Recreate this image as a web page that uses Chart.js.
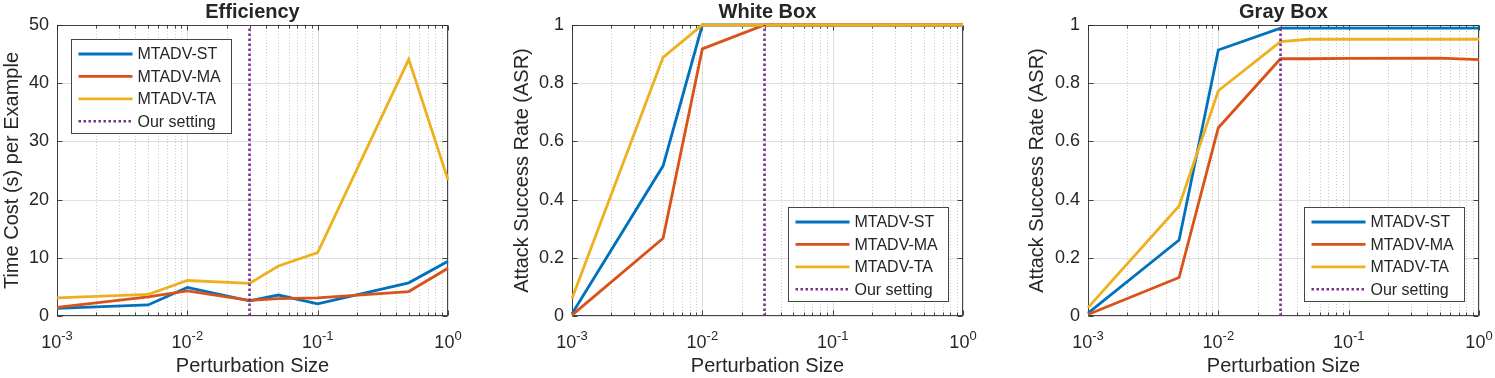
<!DOCTYPE html>
<html>
<head>
<meta charset="utf-8">
<script src="https://cdn.jsdelivr.net/npm/chart.js@4.4.1/dist/chart.umd.min.js"></script>
<style>
  body { margin: 0; background: #fff; }
  #wrap { position: relative; width: 1495px; height: 378px; overflow: hidden; }
  canvas { position: absolute; top: 0; }
</style>
</head>
<body>
<div id="wrap">
  <canvas id="eff" width="500" height="378" style="left:0px"></canvas>
  <canvas id="white" width="500" height="378" style="left:510px"></canvas>
  <canvas id="gray" width="470" height="378" style="left:1025px"></canvas>
</div>
<script>
// data
const perturbation = [0.001, 0.005, 0.01, 0.03, 0.05, 0.1, 0.5, 1];
const ourSetting = 0.03;
const seriesNames = ["MTADV-ST", "MTADV-MA", "MTADV-TA"];
const settingName = "Our setting";

const effST = [1.3, 1.9, 4.9, 2.6, 3.6, 2.1, 5.7, 9.4];
const effMA = [1.5, 3.3, 4.3, 2.7, 3.0, 3.1, 4.2, 8.2];
const effTA = [3.1, 3.7, 6.1, 5.6, 8.6, 10.9, 44.1, 23.4];

const whiteST = [0.008, 0.516, 1, 1, 1, 1, 1, 1];
const whiteMA = [0.003, 0.267, 0.918, 1, 1, 1, 1, 1];
const whiteTA = [0.06, 0.889, 1, 1, 1, 1, 1, 1];

const grayST = [0.01, 0.261, 0.914, 0.989, 0.989, 0.989, 0.989, 0.989];
const grayMA = [0.005, 0.132, 0.647, 0.884, 0.884, 0.885, 0.886, 0.881];
const grayTA = [0.029, 0.378, 0.774, 0.943, 0.951, 0.951, 0.951, 0.951];

const xTickExps = [-3, -2, -1, 0];
const effYTicks = [0, 10, 20, 30, 40, 50];
const asrYTicks = [0, 0.2, 0.4, 0.6, 0.8, 1];

const colors = ["#0072BD", "#D95319", "#EDB120"];
const purple = "#7E2F8E";
const txt = "#262626";
const FONT = "'Liberation Sans', Arial, Helvetica, sans-serif";

function pts(ys) {
  return perturbation.map((x, i) => ({x: x, y: ys[i]}));
}

function makeDatasets(st, ma, ta, yMax) {
  const ds = [st, ma, ta].map((ys, i) => ({
    label: seriesNames[i],
    data: pts(ys),
    borderColor: colors[i],
    borderWidth: 2.8,
    pointRadius: 0,
    tension: 0,
    fill: false,
    clip: false,
    order: 4 - i
  }));
  ds.push({
    label: settingName,
    data: [{x: ourSetting, y: 0}, {x: ourSetting, y: yMax}],
    borderColor: purple,
    borderWidth: 2.6,
    borderDash: [2.5, 2.5],
    borderCapStyle: "butt",
    pointRadius: 0,
    clip: false,
    order: 0
  });
  return ds;
}

// matlab-like box, grid, ticks, title, legend
const matlabAxes = {
  id: "matlabAxes",
  beforeDatasetsDraw(chart, args, o) {
    const {ctx, chartArea: a, scales: {x, y}} = chart;
    ctx.save();
    ctx.lineWidth = 1;
    const lo = xTickExps[0], hi = xTickExps[xTickExps.length - 1];
    // minor grid
    ctx.strokeStyle = "rgba(26,26,26,0.22)";
    ctx.setLineDash([1, 2]);
    for (let e = lo; e < hi; e++) {
      for (let k = 2; k <= 9; k++) {
        const px = Math.round(x.getPixelForValue(k * Math.pow(10, e))) + 0.5;
        ctx.beginPath(); ctx.moveTo(px, a.top); ctx.lineTo(px, a.bottom); ctx.stroke();
      }
    }
    ctx.setLineDash([]);
    ctx.strokeStyle = "rgba(38,38,38,0.15)";
    xTickExps.forEach(e => {
      const px = Math.round(x.getPixelForValue(Math.pow(10, e))) + 0.5;
      ctx.beginPath(); ctx.moveTo(px, a.top); ctx.lineTo(px, a.bottom); ctx.stroke();
    });
    o.yTicks.forEach(v => {
      const py = Math.round(y.getPixelForValue(v)) + 0.5;
      ctx.beginPath(); ctx.moveTo(a.left, py); ctx.lineTo(a.right, py); ctx.stroke();
    });
    // box
    ctx.strokeStyle = "rgba(38,38,38,0.85)";
    const L = Math.round(a.left) + 0.5, R = Math.round(a.right) - 0.5;
    const T = Math.round(a.top) + 0.5, B = Math.round(a.bottom) - 0.5;
    ctx.strokeRect(L, T, R - L, B - T);
    // tick marks
    ctx.beginPath();
    for (let e = lo; e <= hi; e++) {
      for (let k = 1; k <= 9; k++) {
        if (e === hi && k > 1) break;
        const px = Math.round(x.getPixelForValue(k * Math.pow(10, e))) + 0.5;
        const len = k === 1 ? 5 : 3;
        ctx.moveTo(px, B); ctx.lineTo(px, B - len);
        ctx.moveTo(px, T); ctx.lineTo(px, T + len);
      }
    }
    o.yTicks.forEach(v => {
      const py = Math.round(y.getPixelForValue(v)) + 0.5;
      ctx.moveTo(L, py); ctx.lineTo(L + 5, py);
      ctx.moveTo(R, py); ctx.lineTo(R - 5, py);
    });
    ctx.stroke();
    ctx.restore();
  },
  afterDraw(chart, args, o) {
    const {ctx, chartArea: a, scales: {x}} = chart;
    ctx.save();
    ctx.fillStyle = txt;
    // title
    ctx.font = "bold 20px " + FONT;
    ctx.textAlign = "center";
    ctx.textBaseline = "alphabetic";
    ctx.fillText(o.title, (a.left + a.right) / 2, 18);
    // x tick labels 10^e
    ctx.textAlign = "left";
    xTickExps.forEach(e => {
      const px = x.getPixelForValue(Math.pow(10, e));
      ctx.font = "18px " + FONT;
      const w1 = ctx.measureText("10").width;
      ctx.font = "13px " + FONT;
      const sup = String(e);
      const w2 = ctx.measureText(sup).width;
      const start = px - (w1 + w2) / 2;
      ctx.font = "18px " + FONT;
      ctx.fillText("10", start, 348);
      ctx.font = "13px " + FONT;
      ctx.fillText(sup, start + w1, 340);
    });
    // legend
    const bw = 160, bh = 94;
    let bx, by;
    if (o.legend === "tl") { bx = a.left + 14; by = a.top + 14; }
    else { bx = a.right - 15 - bw; by = a.bottom - 15 - bh; }
    bx = Math.round(bx) + 0.5; by = Math.round(by) + 0.5;
    ctx.fillStyle = "#fff";
    ctx.fillRect(bx, by, bw, bh);
    ctx.strokeStyle = "rgba(38,38,38,0.85)";
    ctx.lineWidth = 1;
    ctx.strokeRect(bx, by, bw, bh);
    chart.data.datasets.forEach((d, i) => {
      const ry = by + 14.5 + i * 22.4;
      ctx.beginPath();
      ctx.strokeStyle = d.borderColor;
      ctx.lineWidth = d.borderWidth;
      ctx.setLineDash(d.borderDash || []);
      ctx.moveTo(bx + 7, ry); ctx.lineTo(bx + 61, ry);
      ctx.stroke();
      ctx.setLineDash([]);
      ctx.fillStyle = txt;
      ctx.font = "16px " + FONT;
      ctx.textBaseline = "middle";
      ctx.fillText(d.label, bx + 66, ry + 1);
    });
    ctx.restore();
  }
};

function makeChart(id, datasets, yTicks, yLabel, title, legend, yWidth, padRight) {
  return new Chart(document.getElementById(id), {
    type: "line",
    data: {datasets: datasets},
    plugins: [matlabAxes],
    options: {
      responsive: false,
      animation: false,
      devicePixelRatio: 1,
      layout: {padding: {left: 0, right: padRight, top: 25, bottom: 0}},
      plugins: {
        legend: {display: false},
        tooltip: {enabled: false},
        matlabAxes: {title: title, yTicks: yTicks, legend: legend}
      },
      scales: {
        x: {
          type: "logarithmic",
          min: Math.pow(10, xTickExps[0]),
          max: Math.pow(10, xTickExps[xTickExps.length - 1]),
          grid: {display: false},
          border: {display: false},
          ticks: {display: false},
          title: {display: true, text: "Perturbation Size", color: txt,
                  font: {family: FONT, size: 20}, padding: {top: 0, bottom: 0}},
          afterFit: s => { s.height = 62; }
        },
        y: {
          min: yTicks[0],
          max: yTicks[yTicks.length - 1],
          grid: {display: false, drawTicks: false},
          border: {display: false},
          ticks: {color: txt, font: {family: FONT, size: 18}, padding: 8,
                  callback: v => String(v)},
          afterBuildTicks: s => { s.ticks = yTicks.map(v => ({value: v})); },
          title: {display: true, text: yLabel, color: txt,
                  font: {family: FONT, size: 20}, padding: {top: 0, bottom: 0}},
          afterFit: s => { s.width = yWidth; }
        }
      }
    }
  });
}

makeChart("eff", makeDatasets(effST, effMA, effTA, 50), effYTicks,
  "Time Cost (s) per Example", "Efficiency", "tl", 57, 52);
makeChart("white", makeDatasets(whiteST, whiteMA, whiteTA, 1), asrYTicks,
  "Attack Success Rate (ASR)", "White Box", "br", 62, 47);
makeChart("gray", makeDatasets(grayST, grayMA, grayTA, 1), asrYTicks,
  "Attack Success Rate (ASR)", "Gray Box", "br", 63, 16);
</script>
</body>
</html>
